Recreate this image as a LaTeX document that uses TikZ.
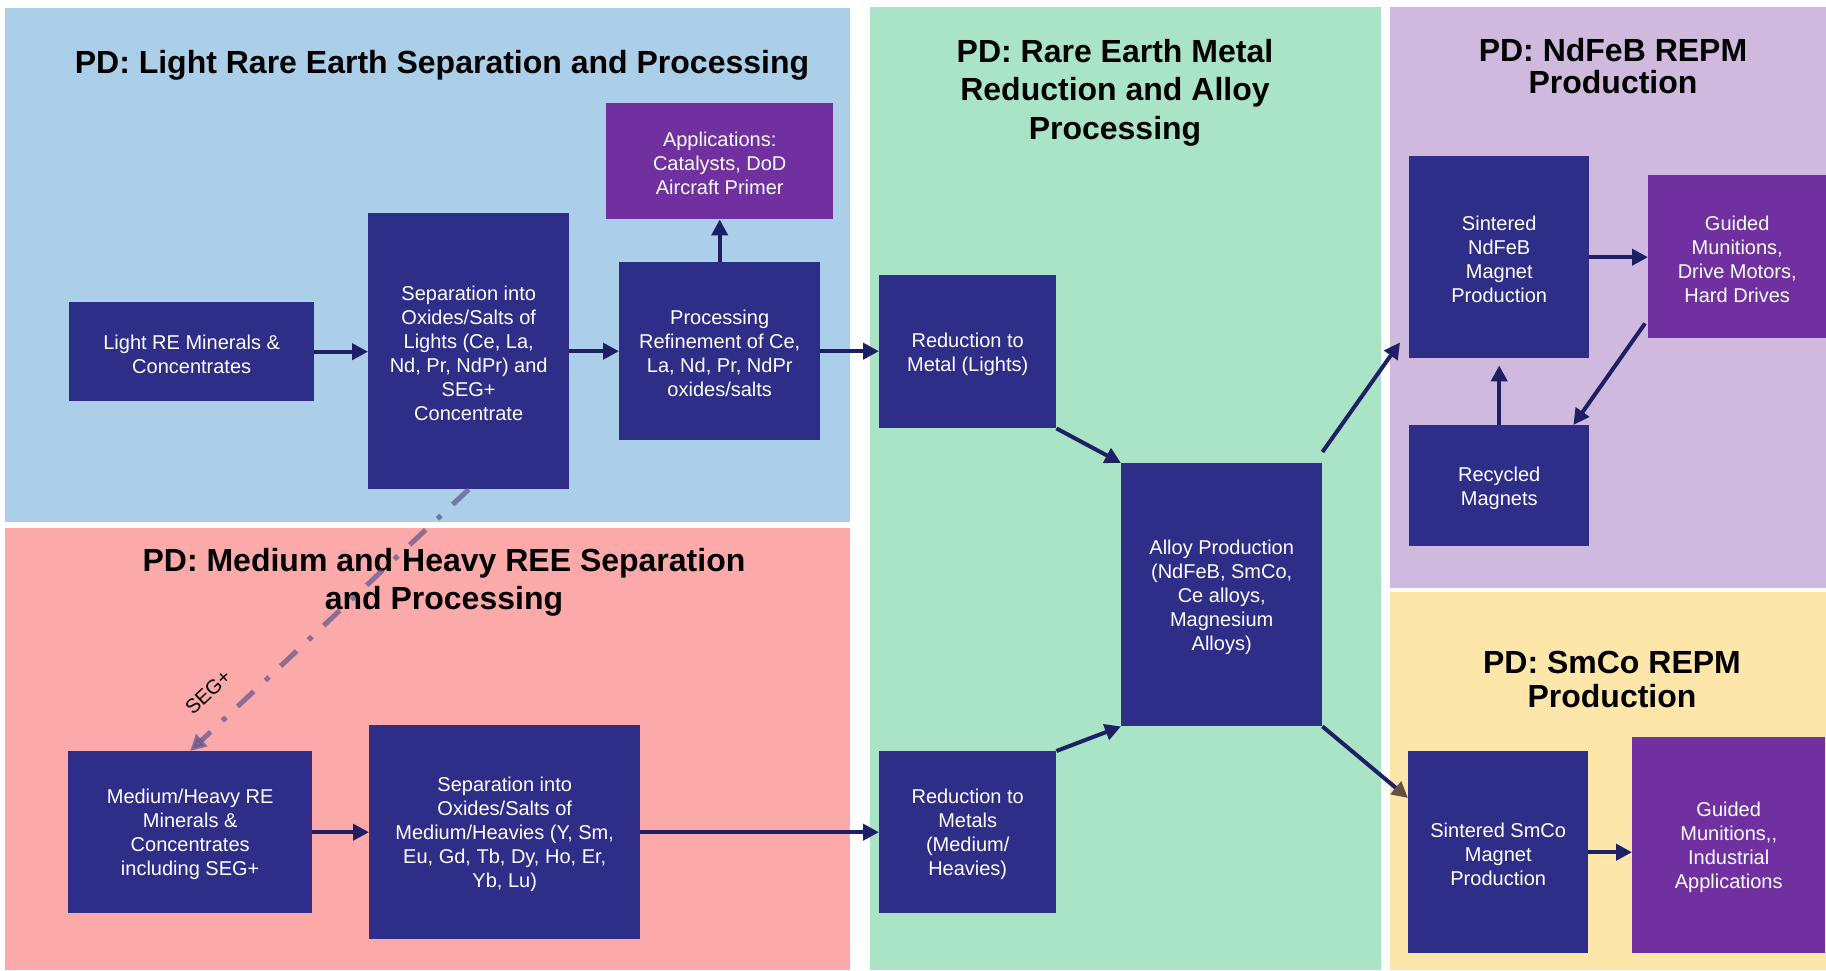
\documentclass[tikz,border=0pt]{standalone}
\usepackage{fontspec}
\setmainfont{Liberation Sans}
\usetikzlibrary{arrows.meta}
\definecolor{pblue}{HTML}{ABCFE8}
\definecolor{ppink}{HTML}{FCA9AA}
\definecolor{pgreen}{HTML}{AAE4C7}
\definecolor{plav}{HTML}{CFB9DE}
\definecolor{pyel}{HTML}{FDE6AA}
\definecolor{navybox}{HTML}{2E2D88}
\definecolor{purpbox}{HTML}{7030A0}
\definecolor{arrc}{HTML}{1F1F66}
\definecolor{arrbrown}{HTML}{625040}
\definecolor{segc}{HTML}{5C548D}
\newcommand{\tst}{\rule{0pt}{19pt}}
\begin{document}
\begin{tikzpicture}[x=1pt,y=-1pt,
  box/.style={fill=navybox, draw=none, text=white, align=center, inner sep=0pt,
    font=\fontsize{20}{24}\selectfont, anchor=north west},
  appbox/.style={box, fill=purpbox},
  ttl/.style={align=center, inner sep=0pt, text=black},
  arr/.style={draw=arrc, line width=4pt, -{Triangle[length=16pt,width=16pt]}},
  segline/.style={draw=segc, opacity=0.7, line width=5pt,
    dash pattern=on 22pt off 16pt on 5pt off 16pt,
    -{Triangle[length=16pt,width=16pt]}}]
\useasboundingbox (0,0) rectangle (1826,970);
\fill[white] (0,0) rectangle (1826,970);
% panels
\fill[pblue] (5,8) rectangle (850,522);
\fill[ppink] (5,528) rectangle (850,970);
\fill[pgreen] (870,7) rectangle (1381,970);
\fill[plav] (1390,7) rectangle (1826,588);
\fill[pyel] (1390,592) rectangle (1826,970);
% titles
\node[ttl, font=\fontsize{32}{38}\selectfont\bfseries] (t1) at (442,65.5)
  {PD: Light Rare Earth Separation and Processing};
\node[ttl, font=\fontsize{32}{38}\selectfont\bfseries] (t2) at (444,582.5)
  {PD: Medium and Heavy REE Separation\\and Processing};
\node[ttl, font=\fontsize{32}{38.5}\selectfont\bfseries] (t3) at (1115,92.5)
  {PD: Rare Earth Metal\\Reduction and Alloy\\Processing};
\node[ttl, font=\fontsize{32}{32}\selectfont\bfseries] (t4) at (1613,66)
  {PD: NdFeB REPM\\Production};
\node[ttl, font=\fontsize{32}{34}\selectfont\bfseries] (t5) at (1612,679)
  {PD: SmCo REPM\\Production};
% boxes
\node[box, minimum width=245pt, minimum height=99pt] (lightmin) at (69,302)
  {\tst Light RE Minerals \&\\Concentrates};
\node[box, minimum width=201pt, minimum height=276pt] (seplight) at (368,213)
  {\tst Separation into\\Oxides/Salts of\\Lights (Ce, La,\\Nd, Pr, NdPr) and\\SEG+\\Concentrate};
\node[appbox, minimum width=227pt, minimum height=116pt] (apps) at (606,103)
  {\tst Applications:\\Catalysts, DoD\\Aircraft Primer};
\node[box, minimum width=201pt, minimum height=178pt] (proc) at (619,262)
  {\tst Processing\\Refinement of Ce,\\La, Nd, Pr, NdPr\\oxides/salts};
\node[box, minimum width=244pt, minimum height=162pt] (medmin) at (68,751)
  {\tst Medium/Heavy RE\\Minerals \&\\Concentrates\\including SEG+};
\node[box, minimum width=271pt, minimum height=214pt] (sepmh) at (369,725)
  {\tst Separation into\\Oxides/Salts of\\Medium/Heavies (Y, Sm,\\Eu, Gd, Tb, Dy, Ho, Er,\\Yb, Lu)};
\node[box, minimum width=177pt, minimum height=153pt] (redl) at (879,275)
  {\tst Reduction to\\Metal (Lights)};
\node[box, minimum width=201pt, minimum height=263pt] (alloy) at (1121,463)
  {\tst Alloy Production\\(NdFeB, SmCo,\\Ce alloys,\\Magnesium\\Alloys)};
\node[box, minimum width=177pt, minimum height=162pt] (redm) at (879,751)
  {\tst Reduction to\\Metals\\(Medium/\\Heavies)};
\node[box, minimum width=180pt, minimum height=202pt] (ndfeb) at (1409,156)
  {\tst Sintered\\NdFeB\\Magnet\\Production};
\node[appbox, minimum width=178pt, minimum height=163pt] (guidedA) at (1648,175)
  {\tst Guided\\Munitions,\\Drive Motors,\\Hard Drives};
\node[box, minimum width=180pt, minimum height=121pt] (recyc) at (1409,425)
  {\tst Recycled\\Magnets};
\node[box, minimum width=180pt, minimum height=202pt] (smco) at (1408,751)
  {\tst Sintered SmCo\\Magnet\\Production};
\node[appbox, minimum width=193pt, minimum height=216pt] (guidedB) at (1632,737)
  {\tst Guided\\Munitions,{},\\Industrial\\Applications};
% connectors
\draw[arr] (lightmin.east) -- (lightmin.east -| seplight.west);
\draw[arr] (seplight.east) -- (seplight.east -| proc.west);
\draw[arr] (proc.north) -- (apps.south);
\draw[arr] (proc.east) -- (proc.east -| redl.west);
\draw[arr] (medmin.east) -- (medmin.east -| sepmh.west);
\draw[arr] (sepmh.east) -- (sepmh.east -| redm.west);
\draw[arr] (redl.south east) -- (alloy.north west);
\draw[arr] (redm.north east) -- (alloy.south west);
\draw[arr] ([shift={(0,-11)}]alloy.north east) -- ([shift={(-9,-16)}]ndfeb.south west);
\draw[draw=arrc, line width=4pt, -{Triangle[length=16pt,width=16pt,color=arrbrown]}]
  (alloy.south east) -- ([shift={(0,47)}]smco.north west);
\draw[arr] (ndfeb.east) -- (ndfeb.east -| guidedA.west);
\draw[arr] ([shift={(-3,-15)}]guidedA.south west) -- ([shift={(-16,0)}]recyc.north east);
\draw[arr] (recyc.north) -- ([shift={(0,7)}]ndfeb.south);
\draw[arr] (smco.east) -- (smco.east -| guidedB.west);
\draw[segline] (seplight.south) -- (medmin.north);
\node[rotate=43.4, inner sep=0pt, font=\fontsize{20}{24}\selectfont] (seg) at (208,692) {SEG+};
\end{tikzpicture}
\end{document}
